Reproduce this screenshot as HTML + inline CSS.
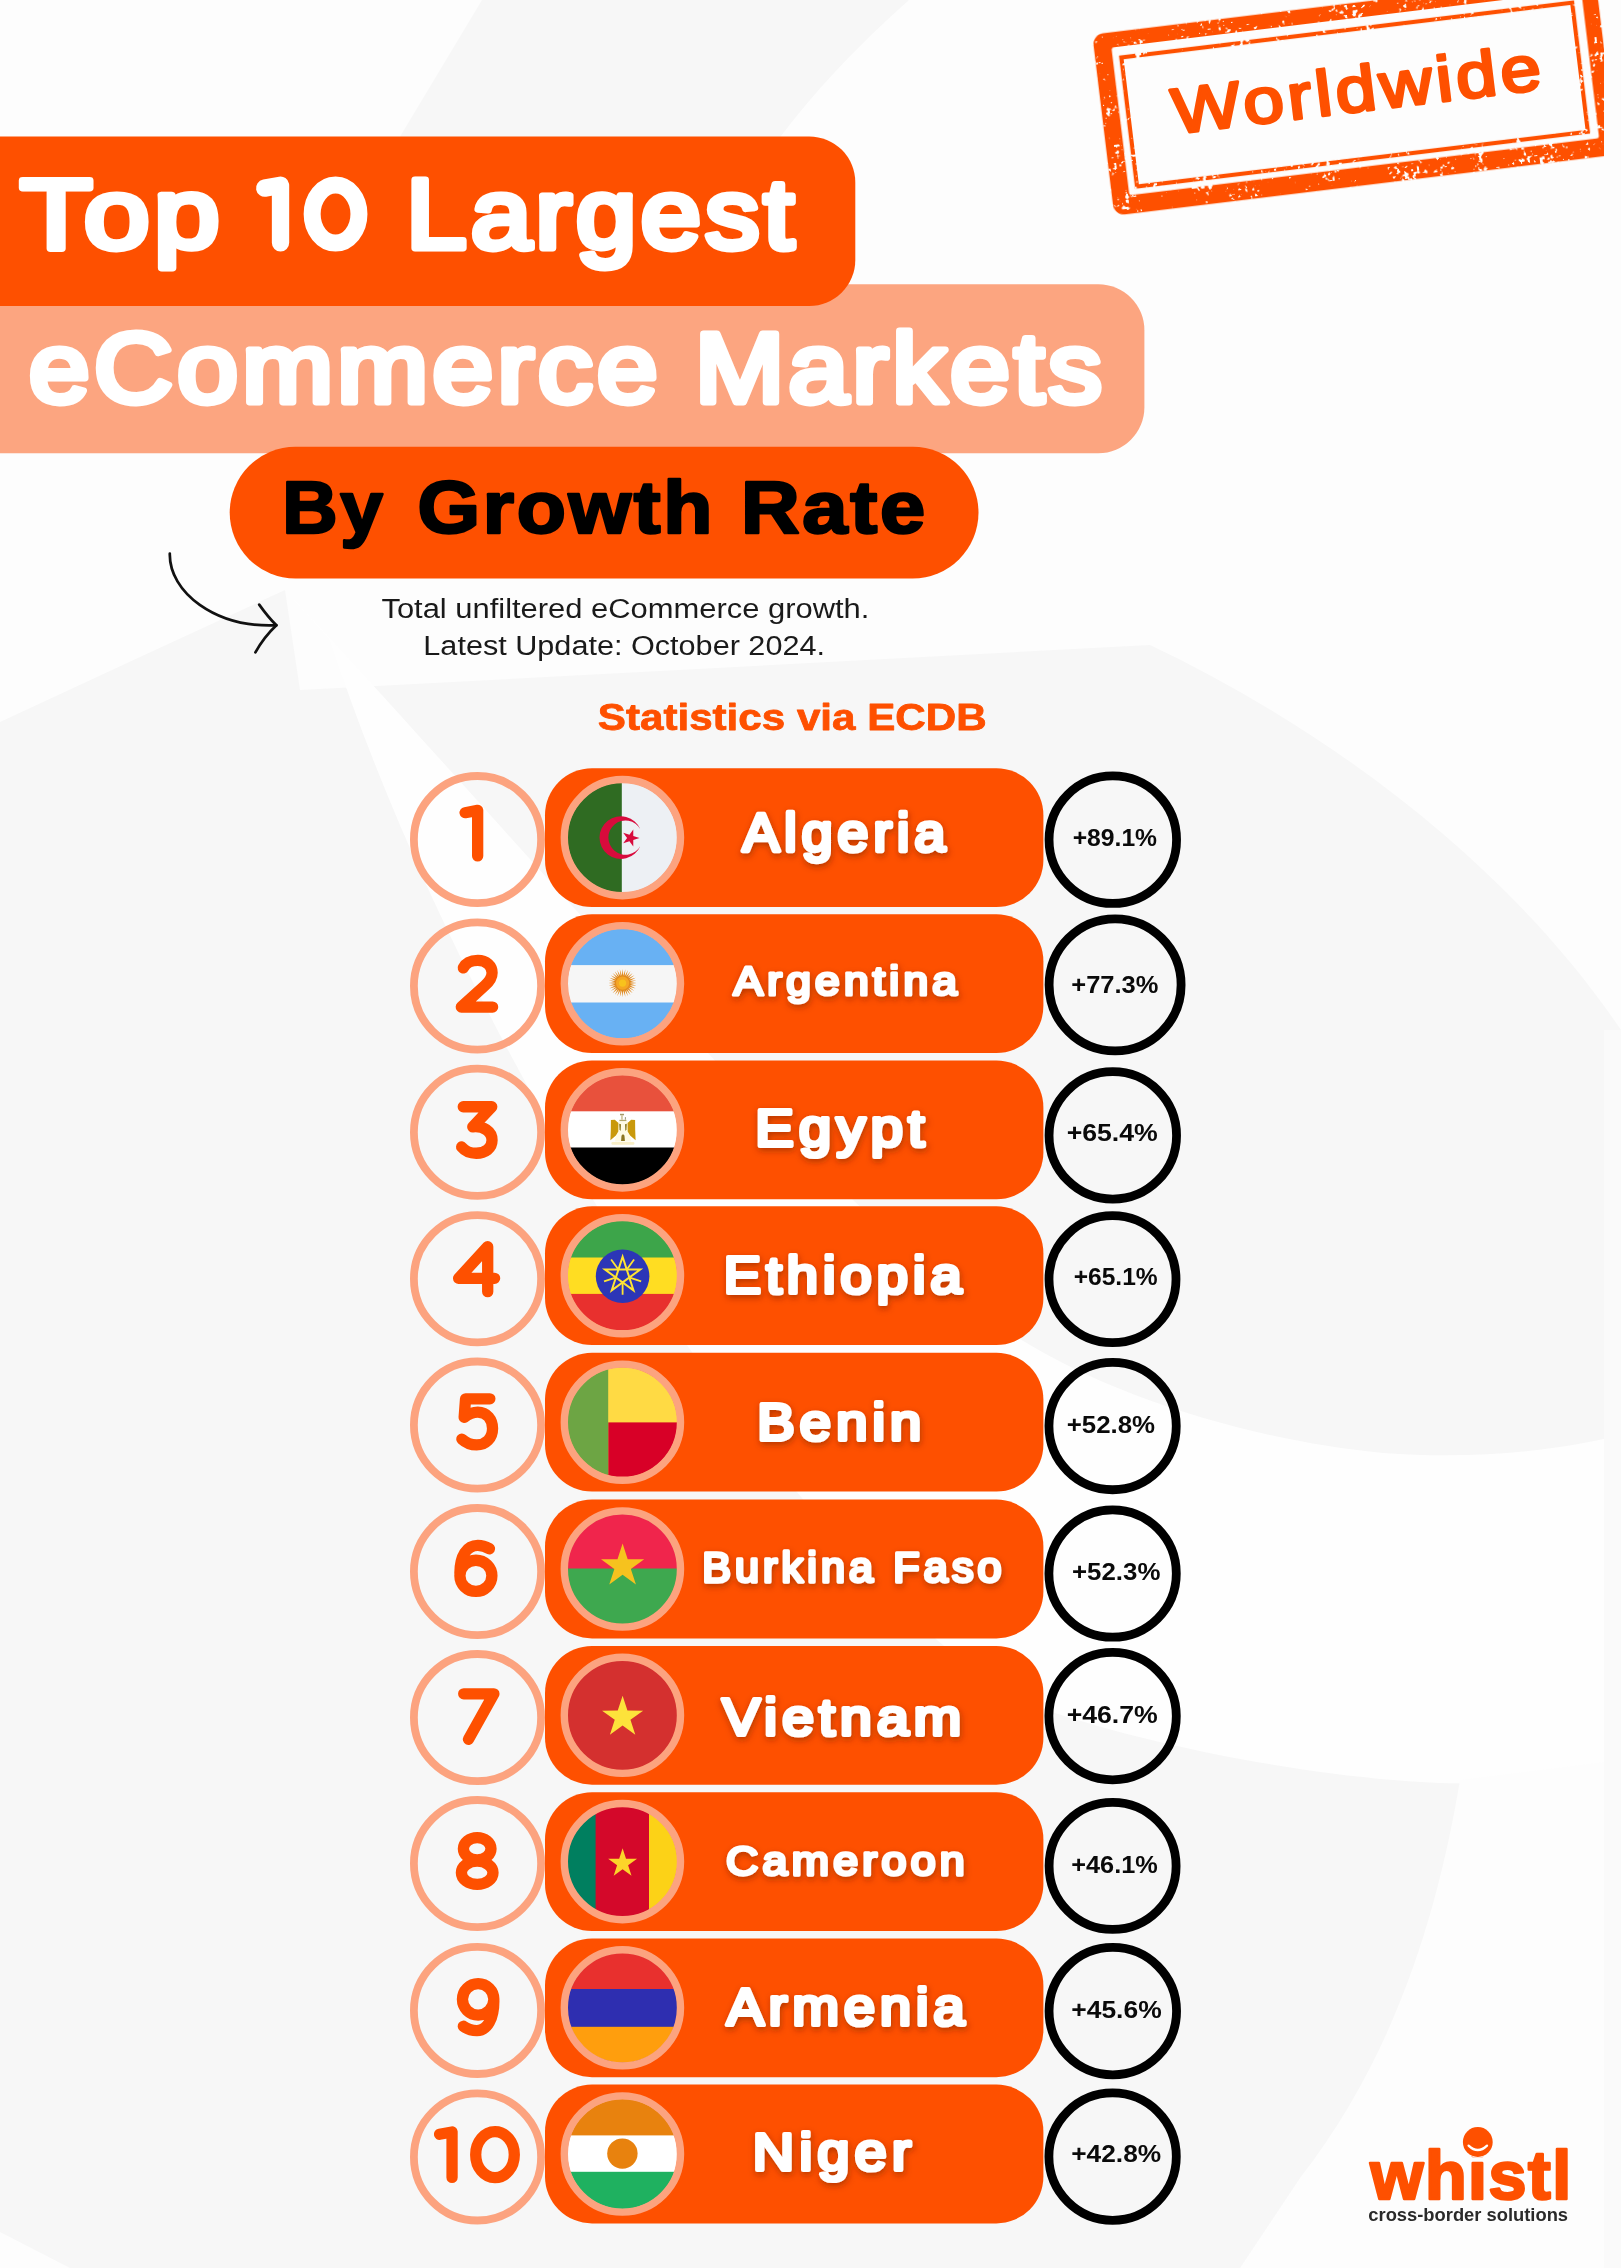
<!DOCTYPE html>
<html lang="en">
<head>
<meta charset="utf-8">
<title>Top 10 Largest eCommerce Markets By Growth Rate</title>
<style>
html,body{margin:0;padding:0;background:#FCFCFC;}
body{width:1621px;height:2268px;overflow:hidden;position:relative;font-family:"Liberation Sans",sans-serif;}
svg{display:block;position:absolute;left:0;top:0;font-family:"Liberation Sans",sans-serif;opacity:0.9999;}
</style>
</head>
<body>
<svg width="1621" height="2268" viewBox="0 0 1621 2268" role="img" aria-label="Top 10 Largest eCommerce Markets By Growth Rate">
<defs>
<clipPath id="fc0"><circle cx="622.4" cy="837.60" r="55"/></clipPath>
<clipPath id="fc1"><circle cx="622.4" cy="983.70" r="55"/></clipPath>
<clipPath id="fc2"><circle cx="622.4" cy="1129.90" r="55"/></clipPath>
<clipPath id="fc3"><circle cx="622.4" cy="1275.70" r="55"/></clipPath>
<clipPath id="fc4"><circle cx="622.4" cy="1422.20" r="55"/></clipPath>
<clipPath id="fc5"><circle cx="622.4" cy="1569.00" r="55"/></clipPath>
<clipPath id="fc6"><circle cx="622.4" cy="1715.30" r="55"/></clipPath>
<clipPath id="fc7"><circle cx="622.4" cy="1861.60" r="55"/></clipPath>
<clipPath id="fc8"><circle cx="622.4" cy="2007.80" r="55"/></clipPath>
<clipPath id="fc9"><circle cx="622.4" cy="2154.00" r="55"/></clipPath>
<filter id="ts" x="-10%" y="-30%" width="120%" height="170%"><feDropShadow dx="0.8" dy="2.8" stdDeviation="3.2" flood-color="#6a2000" flood-opacity="0.5"/></filter>
<clipPath id="stampclip"><rect x="1000" y="0" width="604" height="300"/></clipPath>
<filter id="grunge" x="-5%" y="-5%" width="110%" height="110%" color-interpolation-filters="sRGB">
<feTurbulence type="fractalNoise" baseFrequency="0.25" numOctaves="2" seed="11" result="n1"/>
<feTurbulence type="fractalNoise" baseFrequency="0.04" numOctaves="2" seed="5" result="n2"/>
<feComposite in="n1" in2="n2" operator="arithmetic" k1="0" k2="0.6" k3="0.4" k4="0" result="n"/>
<feColorMatrix in="n" type="matrix" values="0 0 0 0 0  0 0 0 0 0  0 0 0 0 0  0 0 0 -24 15.668" result="m"/>
<feComposite in="SourceGraphic" in2="m" operator="in"/>
</filter>
</defs>
<rect width="1621" height="2268" fill="#FDFDFD"/>
<g id="bg">
<path d="M482,0 H909 Q830,70 778,140 H398Z" fill="#F7F7F7"/>
<path d="M0,722 L140,657 L285,590 L300,690 L1150,645 C1350,740 1520,880 1621,1030 V2268 H0Z" fill="#F7F7F7"/>
<path d="M285,590 C520,840 800,1180 1000,1326 C1100,1395 1250,1440 1383,1453 C1480,1460 1560,1450 1621,1435 V1765 C1560,1780 1480,1786 1421,1782 C1300,1775 1150,1745 1046,1710 C850,1640 480,1100 330,640Z" fill="#FEFEFE"/>
<path d="M1460,1780 C1440,1900 1400,2050 1300,2178 L1240,2268 H1621 V1760Z" fill="#FDFDFD"/>
<path d="M0,2232 L70,2268 H0Z" fill="#FDFDFD"/>
<path d="M1604,1030 H1621 V2268 H1604Z" fill="#FAFAFA"/>
</g>
<g clip-path="url(#stampclip)"><g transform="translate(1354.6 94.6) rotate(-6.93)">
<g filter="url(#grunge)">
<path d="M-242.2,-91.3 H242.2 A11,11 0 0 1 253.2,-80.3 V80.3 A11,11 0 0 1 242.2,91.3 H-242.2 A11,11 0 0 1 -253.2,80.3 V-80.3 A11,11 0 0 1 -242.2,-91.3Z M-233.2,-76.1 A2.5,2.5 0 0 0 -235.7,-73.6 V70.3 A2.5,2.5 0 0 0 -233.2,72.8 H235.0 A2.5,2.5 0 0 0 237.5,70.3 V-73.6 A2.5,2.5 0 0 0 235.0,-76.1Z" fill="#FE5000"/>
<rect x="-227.1" y="-65.0" width="454.2" height="130.0" fill="none" stroke="#FE5000" stroke-width="4.2"/>
</g>
<text transform="translate(-183.26 17.10) scale(1.1394 1.0000)" font-size="64" letter-spacing="3.5" fill="#FE5000" stroke="#FE5000" stroke-width="3.0" stroke-linejoin="round" stroke-linecap="round">Worldwide</text>
</g></g>
<rect x="-60" y="284.2" width="1204.4" height="169" rx="46" fill="#FCA580"/>
<rect x="-60" y="136.4" width="915.3" height="169.6" rx="46" fill="#FE5000"/>
<rect x="229.7" y="446.8" width="748.8" height="131.6" rx="65.8" fill="#FE5000"/>
<text transform="translate(20.29 248.00) scale(1.1887 1.0000)" font-size="99" letter-spacing="4" fill="#fff" stroke="#fff" stroke-width="6.8" stroke-linejoin="round" stroke-linecap="round">Top</text>
<g><title>10</title>
<path transform="translate(264.7 185.2) scale(1.266)" d="M0,2.3 L12.5,0 V45.5" fill="none" stroke="#fff" stroke-width="13.7" stroke-linecap="round" stroke-linejoin="round"/>
<ellipse cx="335.55" cy="214.05" rx="23.4" ry="29.0" fill="none" stroke="#fff" stroke-width="17"/>
</g>
<text transform="translate(406.33 248.00) scale(1.0943 1.0000)" font-size="99" letter-spacing="4" fill="#fff" stroke="#fff" stroke-width="6.8" stroke-linejoin="round" stroke-linecap="round">Largest</text>
<text transform="translate(29.10 402.40) scale(1.1005 1.0000)" font-size="99" letter-spacing="4" fill="#fff" stroke="#fff" stroke-width="6.8" stroke-linejoin="round" stroke-linecap="round">eCommerce</text>
<text transform="translate(694.89 402.40) scale(1.0825 1.0000)" font-size="99" letter-spacing="4" fill="#fff" stroke="#fff" stroke-width="6.8" stroke-linejoin="round" stroke-linecap="round">Markets</text>
<text transform="translate(282.31 533.20) scale(1.0221 1.0000)" font-size="75" font-weight="bold" letter-spacing="2.5" fill="#000" stroke="#000" stroke-width="2.6" stroke-linejoin="round" stroke-linecap="round">By</text>
<text transform="translate(417.46 533.20) scale(1.0722 1.0000)" font-size="75" font-weight="bold" letter-spacing="2.5" fill="#000" stroke="#000" stroke-width="2.6" stroke-linejoin="round" stroke-linecap="round">Growth</text>
<text transform="translate(740.97 533.20) scale(1.0836 1.0000)" font-size="75" font-weight="bold" letter-spacing="2.5" fill="#000" stroke="#000" stroke-width="2.6" stroke-linejoin="round" stroke-linecap="round">Rate</text>
<g fill="none" stroke="#111" stroke-width="2.7" stroke-linecap="round" stroke-linejoin="round">
<path d="M169.8,553.6 C169,592 215,628 276.4,625.3"/>
<path d="M259.2,604.6 Q268,617 276.4,625.3 Q264,637 255.4,652.4"/>
</g>
<text transform="translate(381.45 618.40) scale(1.1452 1.0000)" font-size="27" fill="#1a1a1a">Total unfiltered eCommerce growth.</text>
<text transform="translate(423.33 655.40) scale(1.1343 1.0000)" font-size="27" fill="#1a1a1a">Latest Update: October 2024.</text>
<text transform="translate(597.78 730.10) scale(1.1244 1.0000)" font-size="37.5" font-weight="bold" fill="#FE5000" stroke="#FE5000" stroke-width="0.8" stroke-linejoin="round" stroke-linecap="round">Statistics via ECDB</text>
<g id="row1">
<circle cx="477.5" cy="839.6" r="63.6" fill="none" stroke="#FCA37F" stroke-width="7.8"/>
<rect x="545.0" y="768.2" width="498.4000000000001" height="138.8" rx="47" fill="#FE5000"/>
<g clip-path="url(#fc0)">
<rect x="566.80" y="782.00" width="111.20" height="111.20" fill="#EDF0F4"/>
<rect x="566.80" y="782.00" width="55.00" height="111.20" fill="#2F6B22"/>
<path d="M640.40,829.26 A21.3,21.3 0 1 0 640.40,845.94 A17.1,17.1 0 1 1 640.40,829.26Z" fill="#D80B3C"/>
<polygon points="633.28,829.44 633.28,835.98 639.50,838.00 633.28,840.02 633.28,846.56 629.44,841.27 623.22,843.29 627.06,838.00 623.22,832.71 629.44,834.73" fill="#D80B3C"/>
</g>
<circle cx="622.40" cy="837.60" r="58.1" fill="none" stroke="#FCA37F" stroke-width="7.4"/>
<g><title>1</title>
<path transform="translate(465.15 810.40)" d="M0,2.3 L12.5,0 V45.5" fill="none" stroke="#FE5000" stroke-width="11.3" stroke-linecap="round" stroke-linejoin="round"/>
</g>
<text transform="translate(742.38 851.25) scale(1.0417 1.0000)" font-size="53.1" letter-spacing="4.9" fill="#fff" stroke="#fff" stroke-width="4.3" stroke-linejoin="round" stroke-linecap="round" filter="url(#ts)">Algeria</text>
<circle cx="1112.8" cy="839.7" r="63.75" fill="none" stroke="#000" stroke-width="8.8"/>
<text transform="translate(1072.63 846.30) scale(1.0740 1.0000)" font-size="23" font-weight="bold" fill="#0a0a0a">+89.1%</text>
</g>
<g id="row2">
<circle cx="477.5" cy="986.0" r="63.6" fill="none" stroke="#FCA37F" stroke-width="7.8"/>
<rect x="545.0" y="914.3" width="498.4000000000001" height="138.8" rx="47" fill="#FE5000"/>
<g clip-path="url(#fc1)">
<rect x="566.80" y="928.10" width="111.20" height="111.20" fill="#F6F6F6"/>
<rect x="566.80" y="928.10" width="111.20" height="37.00" fill="#68B1F3"/>
<rect x="566.80" y="1002.50" width="111.20" height="36.80" fill="#68B1F3"/>
<polygon points="636.80,983.10 630.06,983.84 636.53,985.87 629.78,985.28 635.72,988.53 629.21,986.64 634.41,990.99 628.40,987.86 632.64,993.14 627.36,988.90 630.49,994.91 626.14,989.71 628.03,996.22 624.78,990.28 625.37,997.03 623.34,990.56 622.60,997.30 621.86,990.56 619.83,997.03 620.42,990.28 617.17,996.22 619.06,989.71 614.71,994.91 617.84,988.90 612.56,993.14 616.80,987.86 610.79,990.99 615.99,986.64 609.48,988.53 615.42,985.28 608.67,985.87 615.14,983.84 608.40,983.10 615.14,982.36 608.67,980.33 615.42,980.92 609.48,977.67 615.99,979.56 610.79,975.21 616.80,978.34 612.56,973.06 617.84,977.30 614.71,971.29 619.06,976.49 617.17,969.98 620.42,975.92 619.83,969.17 621.86,975.64 622.60,968.90 623.34,975.64 625.37,969.17 624.78,975.92 628.03,969.98 626.14,976.49 630.49,971.29 627.36,977.30 632.64,973.06 628.40,978.34 634.41,975.21 629.21,979.56 635.72,977.67 629.78,980.92 636.53,980.33 630.06,982.36" fill="#E08A1E"/>
<circle cx="622.60" cy="983.10" r="6.6" fill="#F5A623"/>
<circle cx="622.60" cy="983.10" r="3.6" fill="#F8C21C"/>
</g>
<circle cx="622.40" cy="983.70" r="58.1" fill="none" stroke="#FCA37F" stroke-width="7.4"/>
<g><title>2</title>
<path transform="translate(461.30 960.35)" d="M2,7.5 C4.5,2.5 10,0 16.5,0 C25,0 30.8,5.3 30.8,12.4 C30.8,17.8 28,21.3 23.5,25.3 L0,46.7 H31.3" fill="none" stroke="#FE5000" stroke-width="11.3" stroke-linecap="round" stroke-linejoin="round"/>
</g>
<text transform="translate(733.51 995.49) scale(1.1127 1.0000)" font-size="39.8" letter-spacing="3.8" fill="#fff" stroke="#fff" stroke-width="3.22" stroke-linejoin="round" stroke-linecap="round" filter="url(#ts)">Argentina</text>
<circle cx="1115.1" cy="984.9" r="66.00" fill="none" stroke="#000" stroke-width="8.8"/>
<text transform="translate(1071.29 993.20) scale(1.1078 1.0000)" font-size="23" font-weight="bold" fill="#0a0a0a">+77.3%</text>
</g>
<g id="row3">
<circle cx="477.5" cy="1132.3" r="63.6" fill="none" stroke="#FCA37F" stroke-width="7.8"/>
<rect x="545.0" y="1060.5" width="498.4000000000001" height="138.8" rx="47" fill="#FE5000"/>
<g clip-path="url(#fc2)">
<rect x="566.80" y="1074.30" width="111.20" height="111.20" fill="#FFFFFF"/>
<rect x="566.80" y="1074.30" width="111.20" height="37.00" fill="#E8513C"/>
<rect x="566.80" y="1147.50" width="111.20" height="38.00" fill="#000000"/>
<polygon points="618.00,1121.40 628.00,1121.40 631.00,1141.40 615.00,1141.40" fill="#FFFBE4"/>
<rect x="611.40" y="1142.00" width="23" height="2.8" rx="1.2" fill="#FAF0C8"/>
<polygon points="610.90,1119.90 614.80,1119.80 618.40,1123.10 618.30,1131.60 615.90,1135.60 610.40,1140.30 610.80,1129.90" fill="#C9990B"/>
<polygon points="619.20,1123.80 621.00,1124.20 620.70,1131.00 619.50,1129.60" fill="#8D7C24"/>
<polygon points="635.10,1119.90 631.20,1119.80 627.60,1123.10 627.70,1131.60 630.10,1135.60 635.60,1140.30 635.20,1129.90" fill="#C9990B"/>
<polygon points="626.80,1123.80 625.00,1124.20 625.30,1131.00 626.50,1129.60" fill="#8D7C24"/>
<rect x="620.00" y="1113.80" width="4.0" height="1.5" fill="#A59A6A"/>
<rect x="621.10" y="1115.10" width="1.7" height="4.6" fill="#CFC7A0"/>
<rect x="624.90" y="1117.10" width="0.9" height="2.6" fill="#8A8A70"/>
<rect x="619.40" y="1119.80" width="7.0" height="1.3" fill="#B4A868"/>
<path d="M621.10,1141.00 L621.50,1135.80 Q623.00,1132.60 624.50,1135.80 L624.90,1141.00Z" fill="#8C7622"/>
</g>
<circle cx="622.40" cy="1129.90" r="58.1" fill="none" stroke="#FCA37F" stroke-width="7.4"/>
<g><title>3</title>
<path transform="translate(461.25 1106.75)" d="M2,0 H30.5 L11.5,20.1 C22,19 30.8,24.5 30.8,33.5 C30.8,41.5 24,46.5 15,46.5 C8.5,46.5 3.5,44 0.4,40.2" fill="none" stroke="#FE5000" stroke-width="11.3" stroke-linecap="round" stroke-linejoin="round"/>
</g>
<text transform="translate(755.25 1145.92) scale(1.1227 1.0000)" font-size="51.4" letter-spacing="4.8" fill="#fff" stroke="#fff" stroke-width="4.16" stroke-linejoin="round" stroke-linecap="round" filter="url(#ts)">Egypt</text>
<circle cx="1112.8" cy="1135.4" r="63.75" fill="none" stroke="#000" stroke-width="8.8"/>
<text transform="translate(1066.64 1140.70) scale(1.1597 1.0000)" font-size="23" font-weight="bold" fill="#0a0a0a">+65.4%</text>
</g>
<g id="row4">
<circle cx="477.5" cy="1278.8" r="63.6" fill="none" stroke="#FCA37F" stroke-width="7.8"/>
<rect x="545.0" y="1206.3" width="498.4000000000001" height="138.8" rx="47" fill="#FE5000"/>
<g clip-path="url(#fc3)">
<rect x="566.80" y="1220.10" width="111.20" height="111.20" fill="#FFDD22"/>
<rect x="566.80" y="1220.10" width="111.20" height="37.40" fill="#3DA54A"/>
<rect x="566.80" y="1293.90" width="111.20" height="37.40" fill="#E8302E"/>
<circle cx="622.60" cy="1276.30" r="26.8" fill="#2C36B7"/>
<path d="M622.60,1256.80 L633.47,1290.27 L605.01,1269.58 L640.19,1269.58 L611.73,1290.27Z" fill="none" stroke="#FFE433" stroke-width="2" stroke-linejoin="miter"/>
<line x1="627.01" y1="1269.23" x2="634.06" y2="1259.52" stroke="#FFE433" stroke-width="1.8"/>
<line x1="629.73" y1="1277.62" x2="641.15" y2="1281.33" stroke="#FFE433" stroke-width="1.8"/>
<line x1="622.60" y1="1282.80" x2="622.60" y2="1294.80" stroke="#FFE433" stroke-width="1.8"/>
<line x1="615.47" y1="1277.62" x2="604.05" y2="1281.33" stroke="#FFE433" stroke-width="1.8"/>
<line x1="618.19" y1="1269.23" x2="611.14" y2="1259.52" stroke="#FFE433" stroke-width="1.8"/>
</g>
<circle cx="622.40" cy="1275.70" r="58.1" fill="none" stroke="#FCA37F" stroke-width="7.4"/>
<g><title>4</title>
<path transform="translate(458.60 1246.65)" d="M29.1,45 V0 L0,31.7 H36" fill="none" stroke="#FE5000" stroke-width="11.3" stroke-linecap="round" stroke-linejoin="round"/>
</g>
<text transform="translate(723.75 1292.60) scale(1.0743 1.0000)" font-size="52.0" letter-spacing="4.8" fill="#fff" stroke="#fff" stroke-width="4.21" stroke-linejoin="round" stroke-linecap="round" filter="url(#ts)">Ethiopia</text>
<circle cx="1112.5" cy="1279.2" r="63.50" fill="none" stroke="#000" stroke-width="8.8"/>
<text transform="translate(1073.63 1284.90) scale(1.0701 1.0000)" font-size="23" font-weight="bold" fill="#0a0a0a">+65.1%</text>
</g>
<g id="row5">
<circle cx="477.5" cy="1425.1" r="63.6" fill="none" stroke="#FCA37F" stroke-width="7.8"/>
<rect x="545.0" y="1352.8" width="498.4000000000001" height="138.8" rx="47" fill="#FE5000"/>
<g clip-path="url(#fc4)">
<rect x="566.80" y="1366.60" width="111.20" height="111.20" fill="#FFDA44"/>
<rect x="608.20" y="1422.40" width="69.80" height="55.60" fill="#D80027"/>
<rect x="566.80" y="1366.60" width="41.40" height="111.20" fill="#6DA544"/>
</g>
<circle cx="622.40" cy="1422.20" r="58.1" fill="none" stroke="#FCA37F" stroke-width="7.4"/>
<g><title>5</title>
<path transform="translate(461.85 1398.85)" d="M28,0 H3.7 L2.3,18.5 C7,15 11.5,13.2 15.9,13.2 C25,13.2 30.7,20.5 30.7,29.6 C30.7,39.5 24,46 14.8,46 C8.5,46 3.5,43.5 0,40.2" fill="none" stroke="#FE5000" stroke-width="11.3" stroke-linecap="round" stroke-linejoin="round"/>
</g>
<text transform="translate(757.35 1440.49) scale(1.0772 1.0000)" font-size="52.0" letter-spacing="4.8" fill="#fff" stroke="#fff" stroke-width="4.21" stroke-linejoin="round" stroke-linecap="round" filter="url(#ts)">Benin</text>
<circle cx="1112.6" cy="1426.1" r="63.65" fill="none" stroke="#000" stroke-width="8.8"/>
<text transform="translate(1066.68 1433.30) scale(1.1247 1.0000)" font-size="23" font-weight="bold" fill="#0a0a0a">+52.8%</text>
</g>
<g id="row6">
<circle cx="477.5" cy="1571.6" r="63.6" fill="none" stroke="#FCA37F" stroke-width="7.8"/>
<rect x="545.0" y="1499.6" width="498.4000000000001" height="138.8" rx="47" fill="#FE5000"/>
<g clip-path="url(#fc5)">
<rect x="566.80" y="1513.40" width="111.20" height="111.20" fill="#3EA84F"/>
<rect x="566.80" y="1513.40" width="111.20" height="55.10" fill="#F0254C"/>
<polygon points="622.60,1543.50 627.70,1559.18 644.19,1559.19 630.85,1568.88 635.94,1584.56 622.60,1574.87 609.26,1584.56 614.35,1568.88 601.01,1559.19 617.50,1559.18" fill="#F6C21E"/>
</g>
<circle cx="622.40" cy="1569.00" r="58.1" fill="none" stroke="#FCA37F" stroke-width="7.4"/>
<g><title>6</title>
<path transform="translate(459.30 1545.35)" d="M30.2,3.4 C26,1 22,0 18.5,0 C7.5,0 0.6,10.5 0.6,28 M0.6,30.5 a16,15.6 0 1 0 32,0 a16,15.6 0 1 0 -32,0" fill="none" stroke="#FE5000" stroke-width="11.3" stroke-linecap="round" stroke-linejoin="round"/>
</g>
<text transform="translate(702.13 1581.82) scale(1.0359 1.0000)" font-size="41.6" letter-spacing="4.0" fill="#fff" stroke="#fff" stroke-width="3.37" stroke-linejoin="round" stroke-linecap="round" filter="url(#ts)">Burkina Faso</text>
<circle cx="1112.6" cy="1573.5" r="63.70" fill="none" stroke="#000" stroke-width="8.8"/>
<text transform="translate(1071.98 1579.50) scale(1.1247 1.0000)" font-size="23" font-weight="bold" fill="#0a0a0a">+52.3%</text>
</g>
<g id="row7">
<circle cx="477.5" cy="1717.6" r="63.6" fill="none" stroke="#FCA37F" stroke-width="7.8"/>
<rect x="545.0" y="1645.9" width="498.4000000000001" height="138.8" rx="47" fill="#FE5000"/>
<g clip-path="url(#fc6)">
<rect x="566.80" y="1659.70" width="111.20" height="111.20" fill="#D4302F"/>
<polygon points="622.60,1695.70 627.45,1710.62 643.14,1710.63 630.45,1719.85 635.30,1734.77 622.60,1725.55 609.90,1734.77 614.75,1719.85 602.06,1710.63 617.75,1710.62" fill="#FDE23B"/>
</g>
<circle cx="622.40" cy="1715.30" r="58.1" fill="none" stroke="#FCA37F" stroke-width="7.4"/>
<g><title>7</title>
<path transform="translate(463.70 1693.80)" d="M0,0 H30.2 L4.8,45.5" fill="none" stroke="#FE5000" stroke-width="11.3" stroke-linecap="round" stroke-linejoin="round"/>
</g>
<text transform="translate(722.19 1735.39) scale(1.0932 1.0000)" font-size="52.0" letter-spacing="4.8" fill="#fff" stroke="#fff" stroke-width="4.21" stroke-linejoin="round" stroke-linecap="round" filter="url(#ts)">Vietnam</text>
<circle cx="1112.6" cy="1716.1" r="63.70" fill="none" stroke="#000" stroke-width="8.8"/>
<text transform="translate(1066.64 1722.70) scale(1.1597 1.0000)" font-size="23" font-weight="bold" fill="#0a0a0a">+46.7%</text>
</g>
<g id="row8">
<circle cx="477.5" cy="1863.6" r="63.6" fill="none" stroke="#FCA37F" stroke-width="7.8"/>
<rect x="545.0" y="1792.2" width="498.4000000000001" height="138.8" rx="47" fill="#FE5000"/>
<g clip-path="url(#fc7)">
<rect x="566.80" y="1806.00" width="111.20" height="111.20" fill="#D4082A"/>
<rect x="566.80" y="1806.00" width="28.80" height="111.20" fill="#007F5F"/>
<rect x="649.00" y="1806.00" width="29.00" height="111.20" fill="#FCD217"/>
<polygon points="622.60,1848.20 626.01,1858.70 637.06,1858.70 628.12,1865.19 631.53,1875.70 622.60,1869.21 613.67,1875.70 617.08,1865.19 608.14,1858.70 619.19,1858.70" fill="#FCD42A"/>
</g>
<circle cx="622.40" cy="1861.60" r="58.1" fill="none" stroke="#FCA37F" stroke-width="7.4"/>
<g><title>8</title>
<path transform="translate(461.40 1837.60)" d="M2,11.2 a13.8,11.2 0 1 0 27.6,0 a13.8,11.2 0 1 0 -27.6,0 M0,35.2 a15.8,11.6 0 1 0 31.6,0 a15.8,11.6 0 1 0 -31.6,0" fill="none" stroke="#FE5000" stroke-width="11.3" stroke-linecap="round" stroke-linejoin="round"/>
</g>
<text transform="translate(725.90 1875.41) scale(1.0747 1.0000)" font-size="41.6" letter-spacing="4.0" fill="#fff" stroke="#fff" stroke-width="3.37" stroke-linejoin="round" stroke-linecap="round" filter="url(#ts)">Cameroon</text>
<circle cx="1112.6" cy="1865.9" r="63.50" fill="none" stroke="#000" stroke-width="8.8"/>
<text transform="translate(1071.30 1872.80) scale(1.1000 1.0000)" font-size="23" font-weight="bold" fill="#0a0a0a">+46.1%</text>
</g>
<g id="row9">
<circle cx="477.5" cy="2010.4" r="63.6" fill="none" stroke="#FCA37F" stroke-width="7.8"/>
<rect x="545.0" y="1938.4" width="498.4000000000001" height="138.8" rx="47" fill="#FE5000"/>
<g clip-path="url(#fc8)">
<rect x="566.80" y="1952.20" width="111.20" height="111.20" fill="#2E2EB0"/>
<rect x="566.80" y="1952.20" width="111.20" height="36.80" fill="#E8302E"/>
<rect x="566.80" y="2026.80" width="111.20" height="36.60" fill="#FF9E0D"/>
</g>
<circle cx="622.40" cy="2007.80" r="58.1" fill="none" stroke="#FCA37F" stroke-width="7.4"/>
<g><title>9</title>
<path transform="translate(461.45 1983.65)" d="M1,15.7 a15.7,15.7 0 1 0 31.4,0 a15.7,15.7 0 1 0 -31.4,0 M32.4,17 C32.4,35 26,46.9 15.5,46.9 C9.5,46.9 5,45 1.9,42.6" fill="none" stroke="#FE5000" stroke-width="11.3" stroke-linecap="round" stroke-linejoin="round"/>
</g>
<text transform="translate(726.64 2024.89) scale(1.0696 1.0000)" font-size="52.0" letter-spacing="4.8" fill="#fff" stroke="#fff" stroke-width="4.21" stroke-linejoin="round" stroke-linecap="round" filter="url(#ts)">Armenia</text>
<circle cx="1112.8" cy="2011.1" r="63.75" fill="none" stroke="#000" stroke-width="8.8"/>
<text transform="translate(1071.25 2017.70) scale(1.1506 1.0000)" font-size="23" font-weight="bold" fill="#0a0a0a">+45.6%</text>
</g>
<g id="row10">
<circle cx="477.5" cy="2156.9" r="63.6" fill="none" stroke="#FCA37F" stroke-width="7.8"/>
<rect x="545.0" y="2084.6" width="498.4000000000001" height="138.8" rx="47" fill="#FE5000"/>
<g clip-path="url(#fc9)">
<rect x="566.80" y="2098.40" width="111.20" height="111.20" fill="#FFFFFF"/>
<rect x="566.80" y="2098.40" width="111.20" height="37.00" fill="#E8820E"/>
<rect x="566.80" y="2171.80" width="111.20" height="37.80" fill="#1FB160"/>
<circle cx="622.40" cy="2153.60" r="15.2" fill="#E8820E"/>
</g>
<circle cx="622.40" cy="2154.00" r="58.1" fill="none" stroke="#FCA37F" stroke-width="7.4"/>
<g><title>10</title>
<path transform="translate(439.55 2131.95)" d="M0,2.3 L12.5,0 V45.5" fill="none" stroke="#FE5000" stroke-width="11.3" stroke-linecap="round" stroke-linejoin="round"/>
<path transform="translate(475.70 2131.70)" d="M0,23 a19.3,23 0 1 0 38.6,0 a19.3,23 0 1 0 -38.6,0" fill="none" stroke="#FE5000" stroke-width="11.3" stroke-linecap="round" stroke-linejoin="round"/>
</g>
<text transform="translate(752.87 2169.92) scale(1.1135 1.0000)" font-size="51.4" letter-spacing="4.8" fill="#fff" stroke="#fff" stroke-width="4.16" stroke-linejoin="round" stroke-linecap="round" filter="url(#ts)">Niger</text>
<circle cx="1112.6" cy="2156.6" r="63.70" fill="none" stroke="#000" stroke-width="8.8"/>
<text transform="translate(1071.26 2161.90) scale(1.1429 1.0000)" font-size="23" font-weight="bold" fill="#0a0a0a">+42.8%</text>
</g>
<g id="logo">
<text transform="translate(1370.29 2198.70) scale(0.9900 1.0000)" font-size="69" font-weight="bold" letter-spacing="1.5" fill="#FE5000" stroke="#FE5000" stroke-width="2.6" stroke-linejoin="round" stroke-linecap="round">whistl</text>
<circle cx="1477.8" cy="2142" r="15.6" fill="#FCFCFC"/>
<circle cx="1477.8" cy="2142" r="14.9" fill="#FE5000"/>
<path d="M1468.6,2145.6 Q1477.8,2154.5 1487,2145.6" fill="none" stroke="#fff" stroke-width="2.3" stroke-linecap="round"/>
<text transform="translate(1368.30 2221.20) scale(1.0030 1.0000)" font-size="18.3" font-weight="bold" fill="#2a2a2a">cross-border solutions</text>
</g>
</svg>
</body>
</html>
